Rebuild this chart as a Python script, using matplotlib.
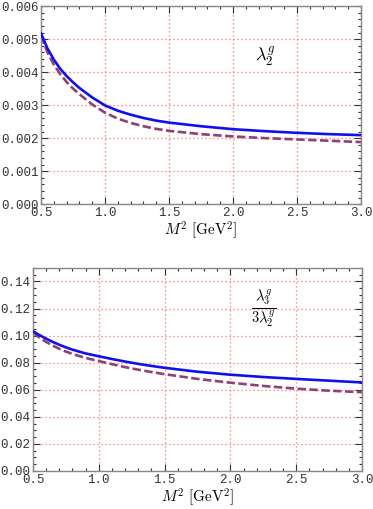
import matplotlib
matplotlib.use("Agg")
import matplotlib.pyplot as plt
from matplotlib.ticker import MultipleLocator, FormatStrFormatter

plt.rcParams['mathtext.fontset'] = 'cm'

# Data
m2 = [0.5, 0.55, 0.6, 0.65, 0.7, 0.75, 0.8, 0.9, 1.0, 1.1, 1.2, 1.3, 1.4,
      1.5, 1.75, 2.0, 2.25, 2.5, 2.75, 3.0]
lam2_solid = [0.00517, 0.00472, 0.00438, 0.00410, 0.00388, 0.00369, 0.00352,
              0.00323, 0.00299, 0.00283, 0.00271, 0.00261, 0.00253, 0.00247,
              0.00236, 0.00227, 0.00221, 0.00216, 0.00212, 0.00209]
lam2_dashed = [0.00510, 0.00460, 0.00423, 0.00394, 0.00370, 0.00350, 0.00333,
               0.00302, 0.00277, 0.00259, 0.00246, 0.00236, 0.00228, 0.00222,
               0.00212, 0.00205, 0.00200, 0.00196, 0.00192, 0.00188]
ratio_solid = [0.1032, 0.1003, 0.0977, 0.0953, 0.0932, 0.0913, 0.0896,
               0.0868, 0.0847, 0.0827, 0.0808, 0.0791, 0.0776, 0.0762,
               0.0733, 0.0711, 0.0694, 0.0680, 0.0667, 0.0654]
ratio_dashed = [0.1020, 0.0985, 0.0953, 0.0926, 0.0902, 0.0882, 0.0864,
                0.0835, 0.0812, 0.0789, 0.0767, 0.0748, 0.0731, 0.0715,
                0.0680, 0.0652, 0.0628, 0.0608, 0.0593, 0.0582]

blue = '#1010ee'
purple = '#914073'
grid_color = '#ff6f6f'
spine_color = '#888888'
mono = 'Liberation Mono'

fig = plt.figure(figsize=(3.73, 5.09), dpi=100)
ax1 = fig.add_axes([0.110, 0.599, 0.858, 0.389])
ax2 = fig.add_axes([0.0885, 0.0747, 0.882, 0.399])

def style(ax, ymax, ymaj, ymin, yfmt):
    ax.set_xlim(0.5, 3.0)
    ax.set_ylim(0, ymax)
    ax.xaxis.set_major_locator(MultipleLocator(0.5))
    ax.xaxis.set_minor_locator(MultipleLocator(0.1))
    ax.yaxis.set_major_locator(MultipleLocator(ymaj))
    ax.yaxis.set_minor_locator(MultipleLocator(ymin))
    ax.xaxis.set_major_formatter(FormatStrFormatter('%.1f'))
    ax.yaxis.set_major_formatter(FormatStrFormatter(yfmt))
    ax.tick_params(which='both', direction='in', top=True, right=True,
                   colors='#333333', labelcolor='#333333', width=0.8)
    ax.tick_params(which='major', length=5, labelsize=9, pad=2)
    ax.tick_params(which='minor', length=2.5)
    for lab in ax.get_xticklabels() + ax.get_yticklabels():
        lab.set_fontfamily(mono)
    for s in ax.spines.values():
        s.set_color(spine_color)
        s.set_linewidth(1.0)
    ax.grid(True, which='major', color=grid_color, linestyle=(0, (1, 2.2)),
            linewidth=0.9)
    ax.set_xlabel(r'$M^2\ [\mathrm{GeV}^2]$', fontsize=11, labelpad=0)

ax1.plot(m2, lam2_solid, color=blue, lw=1.9, zorder=3)
ax1.plot(m2, lam2_dashed, color=purple, lw=1.9, ls=(0, (3.2, 1.3)), zorder=2)
style(ax1, 0.006, 0.001, 0.0002, '%.3f')
ax1.text(2.25, 0.00448, r'$\lambda_2^g$', fontsize=13, ha='center', va='center')

ax2.plot(m2, ratio_solid, color=blue, lw=1.9, zorder=3)
ax2.plot(m2, ratio_dashed, color=purple, lw=1.9, ls=(0, (3.2, 1.3)), zorder=2)
style(ax2, 0.15, 0.02, 0.005, '%.2f')
ax2.text(2.25, 0.12, r'$\frac{\lambda_3^g}{3\lambda_2^g}$', fontsize=15,
         ha='center', va='center')

fig.savefig('out.png', dpi=100)
